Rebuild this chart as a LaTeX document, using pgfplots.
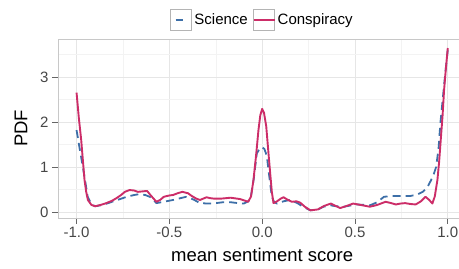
\documentclass[border=0pt]{standalone}
\usepackage{pgfplots}
\pgfplotsset{compat=1.18}
\usepackage{fontspec}
\setmainfont{Liberation Sans}
\definecolor{consp}{RGB}{204,45,104}
\definecolor{sci}{RGB}{61,111,168}
\definecolor{majgrid}{RGB}{230,230,230}
\definecolor{mingrid}{RGB}{243,243,243}
\definecolor{border}{RGB}{200,200,200}
\definecolor{ticklab}{RGB}{70,70,70}
\definecolor{keybox}{RGB}{180,180,180}
\pgfplotsset{
  boxleg/.style={legend image code/.code={\draw[solid, draw=keybox, fill=white, line width=1.1pt] (0bp,-10.5bp) rectangle (21bp,10.5bp); \draw[##1] (0bp,0bp) -- (21bp,0bp);}},
}
\begin{document}
\begin{tikzpicture}
\useasboundingbox (0,0) rectangle (459bp,269bp);
\begin{axis}[
  at={(58bp,51bp)}, anchor=south west,
  width=408.35bp, height=179bp, scale only axis,
  xmin=-1.1, xmax=1.1, ymin=-0.13, ymax=3.84,
  xtick={-1,-0.5,0,0.5,1},
  xticklabels={-1.0,-0.5,0.0,0.5,1.0},
  ytick={0,1,2,3},
  minor xtick={-0.75,-0.25,0.25,0.75},
  minor ytick={0.5,1.5,2.5,3.5},
  grid=both,
  major grid style={majgrid, line width=0.7pt},
  minor grid style={mingrid, line width=0.5pt},
  minor tick length=0pt,
  major tick length=6bp,
  tick align=outside,
  xtick pos=bottom, ytick pos=left,
  tick style={black!60, line width=0.7pt},
  axis line style={border, line width=0.8pt},
  ticklabel style={font=\fontsize{15bp}{15bp}\selectfont, text=ticklab},
  /pgf/number format/assume math mode=true,
  yticklabel style={anchor=east},
  xticklabel style={anchor=north},
  xlabel={mean sentiment score},
  ylabel={PDF},
  xlabel style={yshift=-3bp},
  ylabel style={yshift=6bp},
  label style={font=\fontsize{18.5bp}{18.5bp}\selectfont},
  legend columns=2,
  legend style={at={(0.5,1)}, anchor=center, yshift=19bp, draw=none, fill=none,
    font=\fontsize{15bp}{15bp}\selectfont, inner sep=0pt,
    /tikz/every even column/.append style={column sep=3bp}},
]
\addlegendimage{sharp plot, boxleg, sci, line width=1.8pt, dash pattern=on 7bp off 14bp, dash phase=16bp}
\addlegendimage{sharp plot, boxleg, consp, line width=1.9pt}
\addplot[forget plot, sci, line width=1.8pt, dash pattern=on 8bp off 5bp, line join=round]
coordinates {
(-1.0,1.82) (-0.985,1.45) (-0.966,1.0) (-0.95,0.6) (-0.94,0.34) (-0.92,0.18) (-0.9,0.13) (-0.86,0.16) (-0.83,0.2) (-0.78,0.27) (-0.73,0.34) (-0.69,0.38) (-0.66,0.4) (-0.63,0.38) (-0.60,0.33) (-0.57,0.2) (-0.53,0.23) (-0.48,0.27) (-0.44,0.31) (-0.41,0.34) (-0.37,0.28) (-0.335,0.2) (-0.29,0.19) (-0.25,0.2) (-0.21,0.22) (-0.17,0.22) (-0.13,0.2) (-0.1,0.19) (-0.075,0.24) (-0.061,0.34) (-0.045,0.75) (-0.029,1.3) (-0.012,1.42) (0,1.44) (0.012,1.4) (0.025,1.25) (0.038,0.8) (0.052,0.34) (0.065,0.22) (0.08,0.19) (0.115,0.24) (0.15,0.27) (0.19,0.2) (0.22,0.12) (0.26,0.04) (0.3,0.06) (0.33,0.12) (0.37,0.15) (0.4,0.13) (0.44,0.12) (0.48,0.15) (0.51,0.17) (0.55,0.16) (0.58,0.15) (0.62,0.22) (0.656,0.34) (0.7,0.36) (0.73,0.36) (0.77,0.36) (0.8,0.36) (0.835,0.39) (0.865,0.45) (0.89,0.55) (0.91,0.71) (0.925,0.85) (0.937,1.0) (0.95,1.4) (0.96,1.97) (0.975,2.6) (0.987,3.1) (1.0,3.6)
};
\addplot[forget plot, consp, line width=1.9pt, line join=round]
coordinates {
(-1.0,2.65) (-0.988,2.1) (-0.975,1.6) (-0.965,1.1) (-0.957,0.71) (-0.948,0.45) (-0.939,0.27) (-0.92,0.16) (-0.9,0.13) (-0.87,0.16) (-0.84,0.2) (-0.81,0.25) (-0.785,0.31) (-0.76,0.38) (-0.74,0.45) (-0.715,0.49) (-0.69,0.48) (-0.67,0.45) (-0.645,0.46) (-0.62,0.47) (-0.6,0.37) (-0.57,0.23) (-0.55,0.27) (-0.53,0.34) (-0.5,0.37) (-0.48,0.38) (-0.455,0.42) (-0.43,0.45) (-0.4,0.42) (-0.38,0.36) (-0.355,0.3) (-0.335,0.27) (-0.3,0.33) (-0.28,0.31) (-0.26,0.3) (-0.22,0.3) (-0.17,0.32) (-0.119,0.29) (-0.075,0.23) (-0.06,0.35) (-0.047,0.71) (-0.033,1.25) (-0.02,1.82) (-0.01,2.15) (0,2.29) (0.01,2.2) (0.022,1.9) (0.032,1.4) (0.043,0.87) (0.052,0.45) (0.061,0.2) (0.08,0.24) (0.1,0.3) (0.115,0.33) (0.135,0.28) (0.16,0.23) (0.185,0.24) (0.205,0.21) (0.23,0.12) (0.26,0.04) (0.3,0.06) (0.335,0.14) (0.37,0.19) (0.395,0.14) (0.42,0.09) (0.45,0.13) (0.49,0.19) (0.53,0.16) (0.58,0.12) (0.62,0.16) (0.665,0.23) (0.695,0.2) (0.72,0.17) (0.745,0.19) (0.77,0.2) (0.8,0.18) (0.827,0.17) (0.855,0.24) (0.88,0.34) (0.9,0.27) (0.917,0.19) (0.93,0.35) (0.944,0.71) (0.953,1.1) (0.962,1.6) (0.972,2.15) (0.98,2.71) (0.99,3.2) (1.0,3.64)
};
\legend{Science,Conspiracy}
\end{axis}
\end{tikzpicture}
\end{document}
